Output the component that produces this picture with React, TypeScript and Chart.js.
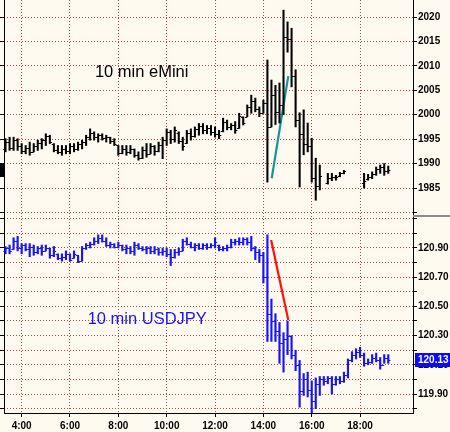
import React, { useEffect, useRef } from "react";
import { Chart, registerables } from "chart.js";

Chart.register(...registerables);

// ---- categories (10-minute bar times) ----
const times = [
  "3:20", "3:30", "3:40", "3:50",
  "4:00", "4:10", "4:20", "4:30", "4:40", "4:50",
  "5:00", "5:10", "5:20", "5:30", "5:40", "5:50",
  "6:00", "6:10", "6:20", "6:30", "6:40", "6:50",
  "7:00", "7:10", "7:20", "7:30", "7:40", "7:50",
  "8:00", "8:10", "8:20", "8:30", "8:40", "8:50",
  "9:00", "9:10", "9:20", "9:30", "9:40", "9:50",
  "10:00", "10:10", "10:20", "10:30", "10:40", "10:50",
  "11:00", "11:10", "11:20", "11:30", "11:40", "11:50",
  "12:00", "12:10", "12:20", "12:30", "12:40", "12:50",
  "13:00", "13:10", "13:20", "13:30", "13:40", "13:50",
  "14:00", "14:10", "14:20", "14:30", "14:40", "14:50",
  "15:00", "15:10", "15:20", "15:30", "15:40", "15:50",
  "16:00", "16:10", "16:20", "16:30", "16:40", "16:50",
  "17:00", "17:10", "17:20", "17:30", "17:40", "17:50",
  "18:00", "18:10", "18:20", "18:30", "18:40", "18:50",
  "19:00", "19:10",
];

// ---- eMini OHLC ----
const emOpen = [
  1993.0, 1994.5, 1993.2, 1994.8, 1993.5, 1992.5, 1993.2, 1992.3, 1993.6, 1994.2,
  1994.8, 1995.6, 1994.1, 1992.8, 1992.4, 1993.0, 1992.6, 1993.5, 1993.0, 1994.0,
  1994.5, 1995.4, 1996.3, 1995.5, 1995.8, 1995.2, 1995.5, 1994.6, 1993.7, 1992.2,
  1993.0, 1992.4, 1992.9, 1991.8, 1991.2, 1992.8, 1992.0, 1993.6, 1992.5, 1993.8,
  1994.9, 1996.5, 1995.0, 1996.3, 1994.6, 1994.3, 1996.2, 1995.6, 1997.0, 1997.6,
  1996.8, 1997.3, 1996.5, 1996.0, 1996.6, 1998.6, 1997.4, 1997.8, 1997.2, 1999.6,
  1999.6, 2001.5, 2002.8, 2001.2, 2000.4, 2002.5, 1997.5, 2004.0, 2000.5, 2002.0,
  2016.0, 2015.5, 2008.0, 1999.0, 1996.0, 1994.0, 1993.5, 1987.0, 1985.5, null,
  1986.0, 1987.0, 1987.3, 1987.4, 1988.0, null, null, null, null, 1986.0,
  1986.8, 1987.2, 1987.9, 1988.8, 1989.2, 1988.5,
];
const emHigh = [
  1995.1, 1995.4, 1995.4, 1995.1, 1994.1, 1993.7, 1994.4, 1994.1, 1994.8, 1995.1,
  1996.1, 1995.8, 1994.1, 1993.7, 1993.7, 1993.7, 1994.1, 1994.1, 1994.4, 1994.8,
  1995.8, 1997.1, 1996.5, 1996.1, 1996.1, 1995.8, 1995.4, 1995.1, 1993.7, 1993.7,
  1993.7, 1993.7, 1993.0, 1992.4, 1993.4, 1994.1, 1994.1, 1993.7, 1994.4, 1995.4,
  1997.1, 1996.8, 1997.5, 1996.5, 1995.4, 1996.8, 1997.1, 1997.5, 1998.2, 1998.2,
  1997.8, 1997.8, 1997.5, 1996.8, 1999.3, 1998.9, 1998.2, 1998.6, 2000.3, 1999.6,
  2002.0, 2004.0, 2003.4, 2001.6, 2003.0, 2011.2, 2007.1, 2006.0, 2006.5, 2021.4,
  2019.0, 2017.7, 2009.2, 2000.4, 2001.0, 1998.3, 1995.2, 1991.1, 1989.7, null,
  1988.0, 1988.0, 1987.6, 1988.2, 1988.6, null, null, null, null, 1988.0,
  1987.8, 1988.3, 1989.3, 1989.7, 1990.0, 1989.5,
];
const emLow = [
  1992.4, 1992.7, 1992.7, 1992.7, 1992.0, 1992.0, 1991.7, 1992.4, 1992.7, 1993.0,
  1993.7, 1994.1, 1992.4, 1992.0, 1991.7, 1992.0, 1992.0, 1992.4, 1992.7, 1993.0,
  1993.7, 1994.8, 1994.8, 1994.4, 1994.8, 1994.4, 1994.1, 1993.7, 1991.7, 1992.0,
  1991.7, 1992.0, 1991.3, 1990.7, 1991.0, 1991.3, 1992.0, 1991.7, 1992.4, 1991.0,
  1993.7, 1994.1, 1994.4, 1994.1, 1992.7, 1994.1, 1994.8, 1995.4, 1995.8, 1996.1,
  1996.1, 1995.8, 1995.4, 1995.1, 1996.5, 1996.9, 1996.9, 1996.2, 1997.2, 1997.9,
  1999.6, 2000.3, 2000.6, 1999.6, 2000.3, 1986.2, 1997.5, 1998.0, 1998.3, 2000.0,
  2012.8, 2005.7, 1997.5, 1985.2, 1991.8, 1992.4, 1986.2, 1982.5, 1984.6, null,
  1985.8, 1986.5, 1986.6, 1987.3, 1987.9, null, null, null, null, 1985.0,
  1986.6, 1986.9, 1987.6, 1988.0, 1987.6, 1988.0,
];
const emClose = [
  1994.5, 1993.2, 1994.8, 1993.5, 1992.5, 1993.2, 1992.3, 1993.6, 1994.2, 1994.8,
  1995.6, 1994.4, 1992.8, 1992.4, 1993.0, 1992.6, 1993.5, 1993.0, 1994.0, 1994.5,
  1995.4, 1996.3, 1995.5, 1995.8, 1995.2, 1995.5, 1994.6, 1994.0, 1992.2, 1993.0,
  1992.4, 1992.9, 1991.8, 1991.2, 1992.8, 1992.0, 1993.6, 1992.5, 1993.8, 1994.9,
  1996.5, 1995.0, 1996.8, 1994.6, 1993.5, 1996.2, 1995.6, 1997.0, 1997.6, 1996.8,
  1997.3, 1996.5, 1996.0, 1995.8, 1998.6, 1997.4, 1997.8, 1996.8, 1999.8, 1998.4,
  2001.5, 2002.8, 2001.2, 2000.4, 2002.5, 1997.5, 2004.0, 2000.5, 2002.0, 2016.0,
  2015.5, 2008.0, 1999.0, 1996.0, 1994.0, 1993.5, 1987.0, 1985.5, 1987.5, null,
  1987.0, 1987.3, 1987.2, 1988.0, 1988.4, null, null, null, null, 1986.5,
  1987.2, 1987.9, 1988.8, 1989.2, 1988.5, 1988.6,
];

// ---- USDJPY OHLC ----
const jpyOpen = [
  120.88, 120.90, 120.89, 120.95, 120.90, 120.92, 120.89, 120.91, 120.87, 120.90,
  120.88, 120.90, 120.85, 120.86, 120.83, 120.84, 120.86, 120.83, 120.85, 120.81,
  120.90, 120.92, 120.93, 120.95, 120.97, 120.95, 120.92, 120.93, 120.91, 120.92,
  120.89, 120.90, 120.88, 120.92, 120.90, 120.89, 120.90, 120.88, 120.89, 120.87,
  120.88, 120.86, 120.84, 120.87, 120.88, 120.95, 120.93, 120.91, 120.92, 120.90,
  120.92, 120.91, 120.92, 120.92, 120.89, 120.90, 120.91, 120.94, 120.95, 120.94,
  120.96, 120.94, 120.90, 120.87, 120.85, 120.70, 120.45, 120.40, 120.33, 120.25,
  120.28, 120.30, 120.17, 120.10, 119.92, 120.00, 119.93, 119.85, 119.97, 120.00,
  119.99, 120.01, 119.97, 120.00, 119.99, 120.03, 120.13, 120.17, 120.19, 120.17,
  120.11, 120.12, 120.15, 120.13, 120.10, 120.15,
];
const jpyHigh = [
  120.91, 120.92, 120.97, 120.98, 120.93, 120.93, 120.93, 120.92, 120.91, 120.92,
  120.92, 120.90, 120.91, 120.86, 120.86, 120.88, 120.86, 120.88, 120.85, 120.91,
  120.93, 120.94, 120.97, 120.99, 120.99, 120.97, 120.94, 120.93, 120.94, 120.92,
  120.92, 120.91, 120.94, 120.93, 120.91, 120.91, 120.91, 120.91, 120.90, 120.90,
  120.90, 120.89, 120.89, 120.90, 120.96, 120.97, 120.94, 120.93, 120.93, 120.93,
  120.93, 120.93, 120.97, 120.92, 120.91, 120.92, 120.96, 120.96, 120.97, 120.97,
  120.97, 120.98, 120.91, 120.89, 120.87, 120.99, 120.55, 120.45, 120.39, 120.32,
  120.40, 120.30, 120.20, 120.13, 120.04, 120.05, 119.99, 120.01, 120.02, 120.02,
  120.02, 120.02, 120.02, 120.02, 120.05, 120.14, 120.19, 120.21, 120.22, 120.18,
  120.14, 120.17, 120.18, 120.15, 120.17, 120.17,
];
const jpyLow = [
  120.86, 120.86, 120.89, 120.88, 120.86, 120.88, 120.84, 120.85, 120.86, 120.85,
  120.88, 120.83, 120.84, 120.82, 120.81, 120.82, 120.81, 120.83, 120.80, 120.81,
  120.89, 120.90, 120.92, 120.93, 120.94, 120.91, 120.90, 120.90, 120.90, 120.88,
  120.86, 120.86, 120.85, 120.89, 120.88, 120.86, 120.86, 120.86, 120.85, 120.85,
  120.84, 120.78, 120.83, 120.85, 120.88, 120.92, 120.90, 120.88, 120.89, 120.89,
  120.89, 120.90, 120.90, 120.88, 120.88, 120.88, 120.90, 120.92, 120.92, 120.92,
  120.92, 120.88, 120.82, 120.80, 120.66, 120.26, 120.26, 120.26, 120.11, 120.05,
  120.17, 120.14, 120.06, 119.81, 119.89, 119.88, 119.75, 119.80, 119.89, 119.96,
  119.97, 119.90, 119.96, 119.97, 119.98, 120.01, 120.12, 120.14, 120.15, 120.09,
  120.10, 120.11, 120.12, 120.07, 120.11, 120.11,
];
const jpyClose = [
  120.90, 120.88, 120.95, 120.90, 120.92, 120.89, 120.91, 120.87, 120.90, 120.88,
  120.90, 120.85, 120.88, 120.83, 120.84, 120.86, 120.82, 120.86, 120.81, 120.90,
  120.92, 120.93, 120.95, 120.97, 120.95, 120.92, 120.93, 120.91, 120.92, 120.89,
  120.90, 120.88, 120.92, 120.90, 120.89, 120.90, 120.88, 120.89, 120.87, 120.88,
  120.86, 120.84, 120.87, 120.88, 120.95, 120.93, 120.91, 120.92, 120.90, 120.92,
  120.91, 120.92, 120.94, 120.89, 120.90, 120.91, 120.94, 120.95, 120.94, 120.96,
  120.94, 120.90, 120.87, 120.85, 120.70, 120.45, 120.40, 120.33, 120.25, 120.28,
  120.30, 120.17, 120.10, 119.92, 120.00, 119.93, 119.85, 119.97, 120.00, 119.99,
  120.01, 119.97, 120.00, 119.99, 120.03, 120.13, 120.17, 120.19, 120.17, 120.11,
  120.12, 120.15, 120.13, 120.10, 120.15, 120.13,
];

// ---- trend lines drawn on the chart ----
const emTrendTimes = [14.345, 15.03];
const emTrendValues = [1987.0, 2007.9];
const jpyTrendTimes = [14.32, 15.03];
const jpyTrendValues = [120.955, 120.407];

// ---- ticks ----
const emTickValues = [1980, 1985, 1990, 1995, 2000, 2005, 2010, 2015, 2020];
const emLabelValues = [1985, 1990, 1995, 2000, 2005, 2010, 2015, 2020];
const jpyTickValues = [
  119.8, 119.9, 120.0, 120.1, 120.2, 120.3, 120.4, 120.5, 120.6, 120.7, 120.8, 120.9, 121.0, 121.1,
];
const jpyLabelValues = ["119.90", "120.10", "120.30", "120.50", "120.70", "120.90"];
const hourTicks = [4, 6, 8, 10, 12, 14, 16, 18];
const hourTickLabels = ["4:00", "6:00", "8:00", "10:00", "12:00", "14:00", "16:00", "18:00"];

// ---- text notes ----
const notes = [
  { text: "10 min eMini", hour: 7.03, value: 2007.7, axis: "yTop", color: "#000000" },
  { text: "10 min USDJPY", hour: 6.73, value: 120.377, axis: "yBot", color: "#1414ff" },
];

const toHours = (t: string) => {
  const [h, m] = t.split(":").map(Number);
  return h + m / 60;
};

const FONT_FAMILY = '"Liberation Sans", Arial, sans-serif';
const GRID = "rgba(172, 60, 60, 0.95)";
const BG = "#fffaf0";
const BLUE = "#1414ff";
const AXIS_FONT = { family: FONT_FAMILY, size: 10, weight: "bold" as const };

function buildBars(open: any[], high: any[], low: any[], close: any[]) {
  const out: any[] = [];
  times.forEach((t, i) => {
    if (high[i] == null || low[i] == null) return;
    out.push({ x: toHours(t), y: [low[i], high[i]], o: open[i], c: close[i] });
  });
  return out;
}

const bgPlugin = {
  id: "bgFill",
  beforeDraw(chart: any) {
    const { ctx, width, height } = chart;
    ctx.save();
    ctx.fillStyle = BG;
    ctx.fillRect(0, 0, width, height);
    ctx.restore();
  },
};

const ohlcPlugin = {
  id: "ohlcTicks",
  afterDatasetsDraw(chart: any) {
    const ctx = chart.ctx;
    chart.data.datasets.forEach((ds: any, di: number) => {
      if (!ds.ohlcColor) return;
      const meta = chart.getDatasetMeta(di);
      const ys = chart.scales[ds.yAxisID];
      ctx.save();
      ctx.strokeStyle = ds.ohlcColor;
      ctx.lineWidth = 1;
      meta.data.forEach((el: any, j: number) => {
        const d = ds.data[j];
        const x = el.x;
        const yo = Math.round(ys.getPixelForValue(d.o)) + 0.5;
        const yc = Math.round(ys.getPixelForValue(d.c)) + 0.5;
        ctx.beginPath();
        ctx.moveTo(x - 2.2, yo);
        ctx.lineTo(x, yo);
        ctx.moveTo(x, yc);
        ctx.lineTo(x + 2.2, yc);
        ctx.stroke();
      });
      ctx.restore();
    });
  },
};

const overlayPlugin = {
  id: "overlay",
  afterDraw(chart: any) {
    const { ctx, chartArea, width } = chart;
    const xs = chart.scales.x;
    ctx.save();
    notes.forEach((n) => {
      const ys = chart.scales[n.axis];
      ctx.font = `16.5px ${FONT_FAMILY}`;
      ctx.fillStyle = n.color;
      ctx.textAlign = "left";
      ctx.textBaseline = "alphabetic";
      ctx.fillText(n.text, xs.getPixelForValue(n.hour), ys.getPixelForValue(n.value));
    });
    const yTop = chart.scales.yTop;
    ctx.strokeStyle = "#8a8a8a";
    ctx.lineWidth = 2;
    ctx.beginPath();
    ctx.moveTo(chartArea.right, yTop.bottom);
    ctx.lineTo(width, yTop.bottom);
    ctx.stroke();
    const yBot = chart.scales.yBot;
    const last = jpyClose[jpyClose.length - 1] as number;
    const py = Math.round(yBot.getPixelForValue(last));
    ctx.fillStyle = "#0a0aff";
    ctx.fillRect(chartArea.right + 2, py - 7, width - chartArea.right - 2, 14);
    ctx.fillStyle = "#ffffff";
    ctx.font = `bold 10px ${FONT_FAMILY}`;
    ctx.textBaseline = "middle";
    ctx.fillText(last.toFixed(2), chartArea.right + 5, py + 0.5);
    const emLast = emClose[emClose.length - 1] as number;
    const ey = Math.round(yTop.getPixelForValue(emLast));
    ctx.fillStyle = "#000000";
    ctx.fillRect(0, ey - 6, chartArea.left, 13);
    ctx.restore();
  },
};

function rightAxis(stackWeight: number, min: number, max: number, tickValues: number[], label: (v: number) => string) {
  return {
    type: "linear",
    position: "right",
    stack: "panels",
    stackWeight,
    min,
    max,
    beginAtZero: false,
    grid: { color: GRID, lineWidth: 1, drawTicks: true, tickLength: 4, tickColor: "#000", tickWidth: 1 },
    border: { display: true, color: "#000", width: 1, dash: [1, 2] },
    ticks: { color: "#000", font: AXIS_FONT, padding: 1, autoSkip: false, callback: (v: number) => label(v) },
    afterBuildTicks: (s: any) => {
      s.ticks = tickValues.map((v) => ({ value: v }));
    },
    afterFit: (s: any) => {
      s.width = 37;
      s.paddingTop = 0;
      s.paddingBottom = 0;
    },
  };
}

function leftAxis(stackWeight: number, min: number, max: number, tickValues: number[]) {
  return {
    type: "linear",
    position: "left",
    stack: "leftside",
    stackWeight,
    min,
    max,
    beginAtZero: false,
    grid: { display: true, drawOnChartArea: false, drawTicks: true, tickLength: 4, tickColor: "#000", color: "#000" },
    border: { display: true, color: "#000", width: 1 },
    ticks: { display: false },
    afterBuildTicks: (s: any) => {
      s.ticks = tickValues.map((v) => ({ value: v }));
    },
    afterFit: (s: any) => {
      s.width = 4;
      s.paddingTop = 0;
      s.paddingBottom = 0;
    },
  };
}

export default function App() {
  const ref = useRef<HTMLCanvasElement | null>(null);

  useEffect(() => {
    if (!ref.current) return;
    const emBars = buildBars(emOpen, emHigh, emLow, emClose);
    const jpyBars = buildBars(jpyOpen, jpyHigh, jpyLow, jpyClose);

    const chart = new Chart(ref.current, {
      type: "bar",
      data: {
        datasets: [
          {
            type: "bar",
            label: "eMini",
            data: emBars,
            yAxisID: "yTop",
            xAxisID: "x",
            backgroundColor: "#000000",
            borderWidth: 0,
            grouped: false,
            barThickness: 1.4,
            maxBarThickness: 1.4,
            ohlcColor: "#000000",
          } as any,
          {
            type: "bar",
            label: "USDJPY",
            data: jpyBars,
            yAxisID: "yBot",
            xAxisID: "x",
            backgroundColor: BLUE,
            borderWidth: 0,
            grouped: false,
            barThickness: 1.5,
            maxBarThickness: 1.5,
            ohlcColor: BLUE,
          } as any,
          {
            type: "line",
            label: "eMini trend",
            data: emTrendTimes.map((t, i) => ({ x: t, y: emTrendValues[i] })),
            yAxisID: "yTop",
            xAxisID: "x",
            borderColor: "#12979a",
            borderWidth: 2.2,
            pointRadius: 0,
            fill: false,
          } as any,
          {
            type: "line",
            label: "USDJPY trend",
            data: jpyTrendTimes.map((t, i) => ({ x: t, y: jpyTrendValues[i] })),
            yAxisID: "yBot",
            xAxisID: "x",
            borderColor: "#ff1010",
            borderWidth: 2.2,
            pointRadius: 0,
            fill: false,
          } as any,
        ],
      },
      options: {
        responsive: false,
        animation: false,
        events: [],
        layout: { padding: 0 },
        plugins: { legend: { display: false }, tooltip: { enabled: false }, title: { display: false } },
        scales: {
          x: {
            type: "linear",
            position: "bottom",
            min: 3.27,
            max: 20.19,
            offset: false,
            grid: {
              color: GRID,
              lineWidth: 1,
              offset: false,
              drawTicks: true,
              tickLength: 4,
              tickColor: "#000",
            },
            border: { display: true, color: "#000", width: 1, dash: [1, 2] },
            ticks: {
              color: "#000",
              font: AXIS_FONT,
              padding: 3,
              autoSkip: false,
              maxRotation: 0,
              callback: (_v: any, i: number) => hourTickLabels[i],
            },
            afterBuildTicks: (s: any) => {
              s.ticks = hourTicks.map((v) => ({ value: v }));
            },
            afterFit: (s: any) => {
              s.height = 19;
              s.paddingLeft = 0;
              s.paddingRight = 0;
            },
          },
          yTop: rightAxis(216, 1979.27, 2023.48, emTickValues, (v) =>
            emLabelValues.includes(Math.round(v)) ? String(Math.round(v)) : ""
          ),
          yBot: rightAxis(197, 119.77, 121.119, jpyTickValues, (v) =>
            jpyLabelValues.includes(Number(v).toFixed(2)) ? Number(v).toFixed(2) : ""
          ),
          yBotL: leftAxis(197, 119.77, 121.119, jpyTickValues),
          yTopL: leftAxis(216, 1979.27, 2023.48, emTickValues),
        } as any,
      },
      plugins: [bgPlugin, ohlcPlugin, overlayPlugin],
    } as any);

    return () => chart.destroy();
  }, []);

  return (
    <div style={{ position: "absolute", left: 0, top: 0, width: 450, height: 432, background: BG }}>
      <canvas ref={ref} width={450} height={432} style={{ display: "block", width: 450, height: 432 }} />
    </div>
  );
}
